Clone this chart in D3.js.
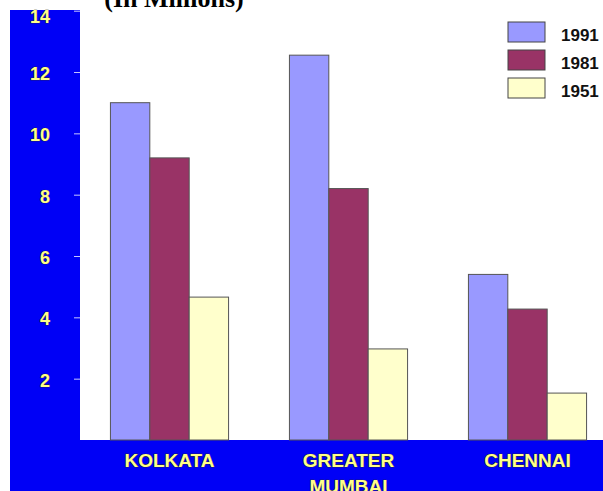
<!DOCTYPE html>
<html>
<head>
<meta charset="utf-8">
<script src="https://cdn.jsdelivr.net/npm/d3@7"></script>
<style>
  html, body { margin: 0; padding: 0; background: #ffffff; }
  svg { display: block; }
</style>
</head>
<body>
<svg id="chart" width="603" height="491"></svg>
<script>
// Population of metropolitan cities (in millions)
const cities = ["KOLKATA", "GREATER MUMBAI", "CHENNAI"];
const years = ["1991", "1981", "1951"];
const pop1991 = [11.0, 12.55, 5.4];
const pop1981 = [9.2, 8.2, 4.27];
const pop1951 = [4.66, 2.97, 1.53];
const yTicks = [2, 4, 6, 8, 10, 12, 14];
const colors = ["#9999ff", "#993366", "#ffffcc"];

const series = [pop1991, pop1981, pop1951];

const svg = d3.select("#chart");
const W = 603, H = 491;
const plot = { left: 80, top: 10, right: 617, bottom: 440 };
const sans = "Arial, 'Liberation Sans', sans-serif";

// blue frame behind the plot
svg.append("rect").attr("x", 10).attr("y", 10).attr("width", W - 10).attr("height", H - 10)
  .attr("fill", "#0000f6");
svg.append("rect").attr("x", plot.left).attr("y", plot.top)
  .attr("width", W - plot.left).attr("height", plot.bottom - plot.top)
  .attr("fill", "#ffffff");

const y = d3.scaleLinear().domain([0, 14]).range([plot.bottom, plot.top + 0.7]);
const x0 = d3.scaleBand().domain(cities).range([plot.left, plot.right]).paddingInner(0.34).paddingOuter(0.17);
const x1 = d3.scaleBand().domain(years).range([0, x0.bandwidth()]);

// bars
const groups = svg.append("g").selectAll("g").data(cities).join("g")
  .attr("transform", d => `translate(${x0(d)},0)`);
groups.selectAll("rect")
  .data((c, i) => years.map((yr, k) => ({ yr, v: series[k][i], k })))
  .join("rect")
  .attr("x", d => x1(d.yr))
  .attr("y", d => y(d.v))
  .attr("width", x1.bandwidth())
  .attr("height", d => plot.bottom - y(d.v))
  .attr("fill", d => colors[d.k])
  .attr("stroke", "#555555")
  .attr("stroke-width", 1);

// y axis
const yAxis = d3.axisLeft(y).tickValues(yTicks).tickSize(6).tickPadding(24);
const ya = svg.append("g").attr("transform", `translate(${plot.left},0)`).call(yAxis);
ya.select(".domain").remove();
ya.selectAll(".tick line").attr("stroke", "#c8c8ff");
ya.selectAll(".tick text")
  .attr("dy", "0.42em")
  .style("font-family", sans)
  .style("font-weight", "bold")
  .style("font-size", "18px")
  .attr("fill", "#ffff88")
  .attr("stroke", "#333300")
  .attr("stroke-width", 0.7)
  .attr("paint-order", "stroke");
ya.selectAll(".tick").filter(d => d === 14).select("text").attr("dy", "0.68em");

// x axis category labels
const xa = svg.append("g").attr("transform", `translate(0,${plot.bottom})`);
xa.selectAll("text").data(cities).join("text")
  .attr("x", d => x0(d) + x0.bandwidth() / 2)
  .attr("y", 27)
  .attr("text-anchor", "middle")
  .style("font-family", sans)
  .style("font-weight", "bold")
  .style("font-size", "19px")
  .attr("fill", "#ffff88")
  .attr("stroke", "#333300")
  .attr("stroke-width", 0.7)
  .attr("paint-order", "stroke")
  .each(function (d) {
    const words = d.split(" ");
    const t = d3.select(this);
    words.forEach((w, i) => {
      t.append("tspan").attr("x", x0(d) + x0.bandwidth() / 2)
        .attr("dy", i === 0 ? 0 : 26).text(w);
    });
  });

// legend
const legend = svg.append("g");
years.forEach((yr, k) => {
  const ly = 22 + k * 28;
  legend.append("rect").attr("x", 508).attr("y", ly).attr("width", 37).attr("height", 20)
    .attr("fill", colors[k]).attr("stroke", "#444444").attr("stroke-width", 1);
  legend.append("text").attr("x", 561).attr("y", ly + 19).text(yr)
    .style("font-family", sans)
    .style("font-weight", "bold")
    .style("font-size", "17px")
    .attr("fill", "#111111");
});

// title, partly above the top edge
svg.append("text").attr("x", 174).attr("y", 7).attr("text-anchor", "middle")
  .text("(In Millions)")
  .style("font-family", "'Liberation Serif', 'Times New Roman', serif")
  .style("font-weight", "bold")
  .style("font-size", "26px")
  .attr("fill", "#000000");
</script>
</body>
</html>
